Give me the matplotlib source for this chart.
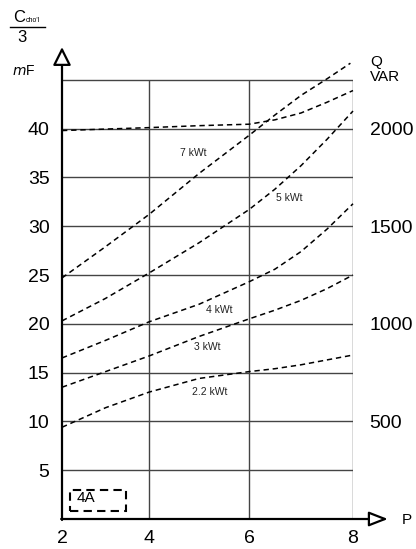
import numpy as np
import matplotlib.pyplot as plt
from matplotlib.patches import Rectangle
from matplotlib.lines import Line2D

plt.rcParams['font.family'] = ['Liberation Sans', 'DejaVu Sans']

p = [2, 3, 4, 5, 6, 6.5, 7, 7.5, 8]
p_7kw = [2, 3, 4, 5, 6, 6.5, 7, 7.5, 7.95]

# C/3 (uF) curves
c_top = [39.8, 39.95, 40.1, 40.3, 40.45, 40.9, 41.6, 42.7, 43.9]
c_7kw = [24.7, 27.9, 31.2, 35.4, 39.3, 41.4, 43.4, 45.1, 46.7]
c_5kw = [20.3, 22.6, 25.2, 28.3, 31.7, 33.8, 36.2, 38.9, 41.8]
c_4kw = [16.5, 18.3, 20.2, 22.0, 24.3, 25.6, 27.4, 29.7, 32.3]
c_3kw = [13.5, 15.1, 16.7, 18.7, 20.5, 21.4, 22.4, 23.6, 25.0]
c_22kw = [9.4, 11.4, 13.0, 14.4, 15.1, 15.4, 15.8, 16.3, 16.8]

curve_labels = ['7 kWt', '5 kWt', '4 kWt', '3 kWt', '2.2 kWt']
label_x = [4.88, 6.77, 5.4, 5.16, 5.22]
label_y = [37.5, 32.9, 21.4, 17.6, 13.0]

x_ticks = [2, 4, 6, 8]
c_ticks = [5, 10, 15, 20, 25, 30, 35, 40]
q_ticks = [500, 1000, 1500, 2000]

W, H = 416, 549
fig = plt.figure(figsize=(W / 100, H / 100), dpi=100)
ax = fig.add_axes([62 / W, 30 / H, 291 / W, 488 / H])

# the drawing has uneven spacing between the P grid lines
grid_px = [0, 87, 187, 291]
def fwd(x):
    return np.interp(x, x_ticks, grid_px)
def inv(u):
    return np.interp(u, grid_px, x_ticks)
ax.set_xscale('function', functions=(fwd, inv))
ax.set_xlim(2, 8)
ax.set_ylim(0, 50)

for s in ax.spines.values():
    s.set_visible(False)

ax.hlines(range(5, 50, 5), 2, 8, color='#444444', lw=1)
ax.vlines([4, 6, 8], 0, 45, color='#444444', lw=1)

dash = (0, (3.5, 2.5))
for yy in [c_top, c_5kw, c_4kw, c_3kw, c_22kw]:
    ax.plot(p, yy, color='black', lw=1.1, ls=dash, clip_on=False)
ax.plot(p_7kw, c_7kw, color='black', lw=1.1, ls=dash, clip_on=False)

for t, lx, ly in zip(curve_labels, label_x, label_y):
    ax.text(lx, ly, t, fontsize=7.5, ha='center', va='center', color='#222222')

# axes with open arrow heads
ax.annotate('', xy=(0, 0.967), xytext=(0, -0.002), xycoords='axes fraction',
            arrowprops=dict(arrowstyle='-|>,head_length=1.1,head_width=0.55',
                            lw=1.6, fc='white', ec='black', shrinkA=0, shrinkB=0),
            annotation_clip=False)
ax.annotate('', xy=(1.12, 0), xytext=(-0.003, 0), xycoords='axes fraction',
            arrowprops=dict(arrowstyle='-|>,head_length=1.15,head_width=0.45',
                            lw=1.6, fc='white', ec='black', shrinkA=0, shrinkB=0),
            annotation_clip=False)

ax.set_xticks(x_ticks)
ax.set_xticklabels([str(v) for v in x_ticks])
ax.set_yticks(c_ticks)
ax.set_yticklabels([str(v) for v in c_ticks])
ax.tick_params(axis='x', length=0, pad=8, labelsize=14)
ax.tick_params(axis='y', length=0, pad=9, labelsize=14)

ax2 = ax.twinx()
ax2.set_ylim(0, 50)
ax2.set_yticks([q / 50 for q in q_ticks])
ax2.set_yticklabels([str(q) for q in q_ticks])
ax2.tick_params(axis='y', length=0, pad=12, labelsize=14)
for s in ax2.spines.values():
    s.set_visible(False)

# dashed "4A" box
ax.add_patch(Rectangle((0.0275, 0.0164), 0.1924, 0.043, transform=ax.transAxes,
                       fill=False, ec='black', lw=1.5, ls=(0, (4, 2.5))))
ax.text(0.083, 0.043, '4A', transform=ax.transAxes, fontsize=11,
        ha='center', va='center')

def fx(px):
    return px / W
def fy(py):
    return 1 - py / H

fig.text(fx(19), fy(17), 'C', fontsize=12, ha='center', va='center')
fig.text(fx(26), fy(20), "cho'l", fontsize=5, ha='left', va='center')
fig.add_artist(Line2D([fx(10), fx(45)], [fy(27), fy(27)], color='black', lw=1))
fig.text(fx(22), fy(37), '3', fontsize=12, ha='center', va='center')
fig.text(fx(24), fy(71), r'$\mathit{m}$F', fontsize=10, ha='center', va='center')
fig.text(fx(370), fy(62), 'Q', fontsize=11, ha='left', va='center')
fig.text(fx(370), fy(77), 'VAR', fontsize=11, ha='left', va='center')
fig.text(fx(402), fy(520), 'P', fontsize=11, ha='left', va='center')

fig.savefig('out.png', dpi=100)
